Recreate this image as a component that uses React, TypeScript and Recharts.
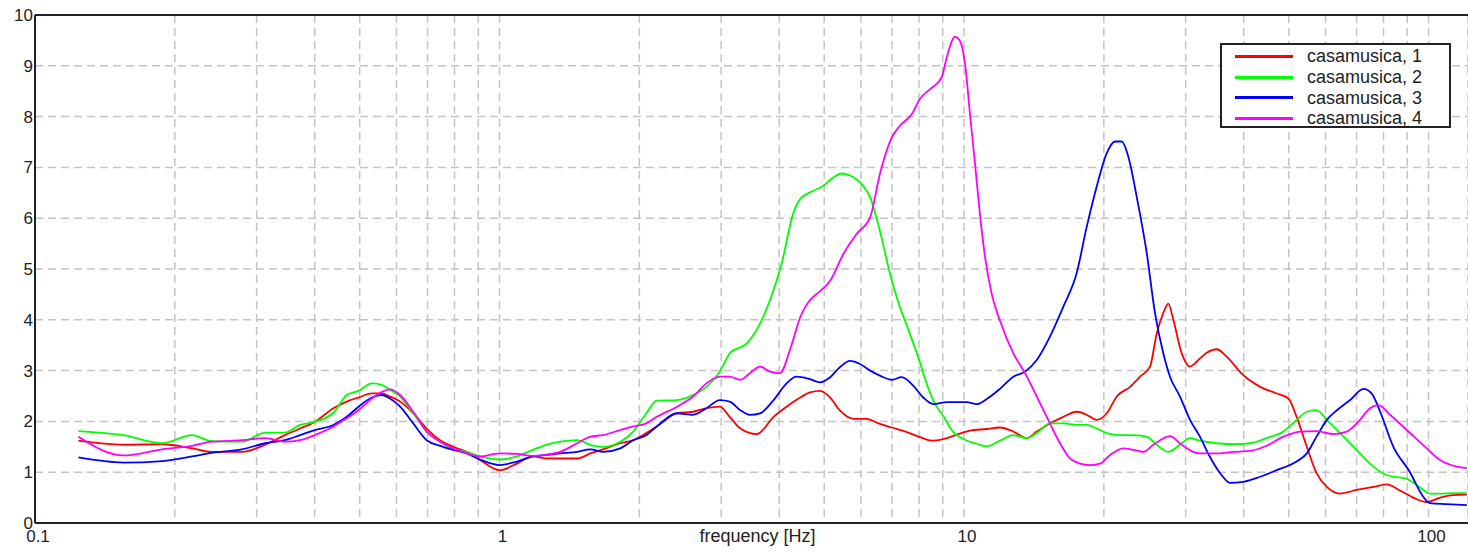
import { LineChart, Line, XAxis, YAxis, CartesianGrid, ReferenceLine } from "recharts"

// [frequency Hz, amplitude]
const RED: [number, number][] = [
  [0.124, 1.62], [0.155, 1.54], [0.188, 1.55], [0.218, 1.47], [0.24, 1.4], [0.279, 1.4], [0.313, 1.54], [0.345, 1.73],
  [0.372, 1.86], [0.4, 1.99], [0.439, 2.26], [0.469, 2.39], [0.497, 2.47], [0.531, 2.55], [0.558, 2.55], [0.581, 2.49],
  [0.611, 2.39], [0.652, 2.16], [0.697, 1.86], [0.745, 1.63], [0.795, 1.5], [0.85, 1.4], [0.908, 1.24], [1.0, 1.04],
  [1.09, 1.17], [1.18, 1.31], [1.26, 1.27], [1.35, 1.27], [1.47, 1.27], [1.57, 1.37], [1.67, 1.45], [1.82, 1.57],
  [1.94, 1.63], [2.07, 1.77], [2.18, 1.9], [2.41, 2.16], [2.61, 2.19], [2.79, 2.26], [2.98, 2.29], [3.13, 2.09],
  [3.3, 1.86], [3.58, 1.75], [3.89, 2.09], [4.15, 2.29], [4.44, 2.47], [4.66, 2.57], [4.9, 2.6], [5.15, 2.47],
  [5.41, 2.21], [5.78, 2.05], [6.17, 2.05], [6.59, 1.95], [6.99, 1.88], [7.53, 1.79], [8.04, 1.69], [8.52, 1.62],
  [9.03, 1.65], [9.65, 1.74], [10.3, 1.82], [11.19, 1.85], [11.95, 1.88], [12.77, 1.8], [13.65, 1.67], [14.34, 1.8],
  [15.31, 1.96], [16.36, 2.09], [17.48, 2.19], [18.37, 2.13], [19.3, 2.03], [20.29, 2.16], [21.32, 2.49], [22.77, 2.68],
  [23.93, 2.88], [25.14, 3.08], [25.99, 3.73], [26.85, 4.13], [27.53, 4.32], [28.22, 4.0], [29.42, 3.34], [30.65, 3.08],
  [32.2, 3.24], [33.3, 3.35], [35.0, 3.42], [36.8, 3.27], [39.9, 2.91], [43.4, 2.68], [47.1, 2.55], [49.9, 2.45],
  [52.0, 2.09], [54.7, 1.5], [57.4, 0.98], [60.4, 0.71], [64.5, 0.58], [70.0, 0.65], [76.1, 0.71], [81.3, 0.76],
  [86.8, 0.64], [92.7, 0.5], [99.1, 0.41], [105.9, 0.5], [113.1, 0.55], [120.9, 0.56],
]

const GREEN: [number, number][] = [
  [0.124, 1.81], [0.155, 1.73], [0.188, 1.57], [0.218, 1.73], [0.24, 1.61], [0.279, 1.6], [0.313, 1.78], [0.345, 1.78],
  [0.372, 1.93], [0.4, 1.99], [0.439, 2.17], [0.469, 2.52], [0.497, 2.6], [0.531, 2.75], [0.558, 2.72], [0.581, 2.62],
  [0.611, 2.49], [0.652, 2.16], [0.697, 1.8], [0.745, 1.6], [0.795, 1.45], [0.85, 1.4], [0.908, 1.31], [1.0, 1.25],
  [1.09, 1.31], [1.18, 1.44], [1.26, 1.54], [1.35, 1.6], [1.47, 1.63], [1.57, 1.54], [1.67, 1.5], [1.82, 1.6],
  [1.94, 1.8], [2.07, 2.16], [2.18, 2.41], [2.41, 2.42], [2.61, 2.52], [2.79, 2.68], [2.98, 2.98], [3.13, 3.34],
  [3.41, 3.54], [3.64, 3.93], [3.89, 4.59], [4.05, 5.11], [4.29, 6.1], [4.44, 6.38], [4.74, 6.54], [4.98, 6.64],
  [5.23, 6.8], [5.45, 6.88], [5.68, 6.84], [6.02, 6.67], [6.28, 6.41], [6.59, 5.75], [6.99, 4.77], [7.28, 4.25],
  [7.65, 3.72], [7.97, 3.26], [8.31, 2.74], [8.59, 2.41], [9.06, 2.08], [9.48, 1.79], [10.0, 1.65], [10.65, 1.56],
  [11.19, 1.51], [11.95, 1.62], [12.77, 1.73], [13.65, 1.67], [14.34, 1.77], [15.31, 1.96], [16.36, 1.96], [17.48, 1.93],
  [18.37, 1.93], [19.3, 1.86], [20.29, 1.77], [21.67, 1.73], [23.15, 1.73], [24.74, 1.7], [25.99, 1.54], [27.53, 1.4],
  [29.17, 1.54], [30.65, 1.67], [32.2, 1.62], [35.0, 1.57], [38.0, 1.55], [41.3, 1.57], [44.8, 1.67], [48.7, 1.8],
  [52.0, 2.03], [54.7, 2.19], [57.4, 2.22], [60.4, 2.03], [64.5, 1.77], [70.0, 1.44], [76.1, 1.11], [81.3, 0.94],
  [89.8, 0.87], [95.9, 0.7], [100.7, 0.58], [106.0, 0.58], [113.1, 0.59], [120.9, 0.59],
]

const BLUE: [number, number][] = [
  [0.124, 1.29], [0.155, 1.19], [0.188, 1.22], [0.218, 1.31], [0.24, 1.38], [0.279, 1.45], [0.313, 1.57], [0.345, 1.63],
  [0.372, 1.73], [0.4, 1.83], [0.439, 1.93], [0.469, 2.09], [0.497, 2.29], [0.531, 2.47], [0.558, 2.52], [0.581, 2.45],
  [0.611, 2.29], [0.652, 1.96], [0.697, 1.63], [0.745, 1.52], [0.795, 1.44], [0.85, 1.37], [0.908, 1.25], [1.0, 1.14],
  [1.09, 1.21], [1.18, 1.31], [1.26, 1.34], [1.35, 1.37], [1.47, 1.4], [1.57, 1.45], [1.67, 1.4], [1.82, 1.47],
  [1.94, 1.63], [2.07, 1.73], [2.18, 1.9], [2.41, 2.16], [2.61, 2.13], [2.79, 2.26], [2.98, 2.42], [3.13, 2.39],
  [3.3, 2.22], [3.46, 2.13], [3.64, 2.16], [3.89, 2.42], [4.15, 2.75], [4.36, 2.88], [4.66, 2.83], [4.9, 2.77],
  [5.15, 2.87], [5.41, 3.07], [5.68, 3.19], [5.97, 3.13], [6.28, 3.0], [6.59, 2.9], [6.99, 2.82], [7.34, 2.87],
  [7.78, 2.7], [8.17, 2.47], [8.59, 2.34], [9.18, 2.38], [9.65, 2.38], [10.13, 2.38], [10.65, 2.34], [11.19, 2.44],
  [11.95, 2.64], [12.77, 2.88], [13.53, 2.98], [14.34, 3.21], [15.31, 3.67], [16.36, 4.26], [17.48, 4.92], [18.37, 5.83],
  [19.3, 6.62], [20.29, 7.28], [21.14, 7.51], [21.86, 7.51], [22.58, 7.21], [23.54, 6.42], [24.74, 5.31], [25.77, 4.13],
  [26.85, 3.34], [27.76, 2.88], [29.17, 2.49], [30.65, 2.03], [32.2, 1.7], [33.8, 1.31], [35.6, 0.98], [37.4, 0.79],
  [39.9, 0.81], [43.4, 0.91], [47.1, 1.04], [52.0, 1.21], [54.7, 1.37], [57.4, 1.7], [60.4, 2.03], [63.5, 2.22],
  [67.8, 2.42], [72.4, 2.64], [75.4, 2.55], [78.6, 2.2], [84.0, 1.5], [91.2, 1.0], [96.7, 0.56], [100.7, 0.39],
  [109.4, 0.37], [120.9, 0.35],
]

const MAGENTA: [number, number][] = [
  [0.124, 1.7], [0.155, 1.33], [0.188, 1.45], [0.218, 1.52], [0.24, 1.6], [0.279, 1.63], [0.313, 1.67], [0.345, 1.6],
  [0.372, 1.63], [0.4, 1.73], [0.439, 1.9], [0.469, 2.06], [0.497, 2.22], [0.531, 2.45], [0.558, 2.58], [0.581, 2.63],
  [0.611, 2.52], [0.652, 2.19], [0.697, 1.8], [0.745, 1.6], [0.795, 1.47], [0.85, 1.37], [0.908, 1.31], [1.0, 1.37],
  [1.09, 1.36], [1.18, 1.32], [1.26, 1.34], [1.35, 1.4], [1.47, 1.57], [1.57, 1.7], [1.67, 1.73], [1.82, 1.83],
  [1.94, 1.9], [2.07, 1.96], [2.18, 2.09], [2.41, 2.29], [2.61, 2.49], [2.79, 2.75], [2.98, 2.88], [3.13, 2.88],
  [3.3, 2.82], [3.46, 2.95], [3.64, 3.08], [3.82, 2.98], [4.02, 2.95], [4.22, 3.41], [4.44, 4.05], [4.66, 4.39],
  [4.82, 4.51], [5.15, 4.77], [5.5, 5.3], [5.87, 5.69], [6.28, 6.02], [6.59, 6.87], [6.99, 7.59], [7.28, 7.82],
  [7.72, 8.05], [8.04, 8.35], [8.45, 8.54], [8.95, 8.77], [9.18, 9.17], [9.56, 9.57], [9.8, 9.49], [10.05, 9.04],
  [10.3, 8.05], [10.56, 7.07], [10.82, 6.08], [11.1, 5.23], [11.47, 4.51], [11.95, 3.98], [12.77, 3.34], [13.53, 2.95],
  [14.34, 2.49], [15.31, 1.96], [16.09, 1.57], [16.91, 1.27], [17.77, 1.17], [18.67, 1.14], [19.63, 1.17], [20.62, 1.34],
  [22.03, 1.47], [23.15, 1.44], [24.32, 1.4], [25.56, 1.54], [27.76, 1.71], [29.42, 1.54], [31.16, 1.4], [32.2, 1.37],
  [35.0, 1.37], [38.0, 1.4], [41.3, 1.42], [44.8, 1.52], [48.7, 1.7], [52.9, 1.8], [57.4, 1.81], [62.4, 1.75],
  [66.7, 1.8], [71.2, 2.03], [74.8, 2.26], [78.0, 2.32], [82.6, 2.13], [89.8, 1.83], [99.1, 1.47], [105.9, 1.24],
  [115.0, 1.11], [120.9, 1.08],
]

const SERIES = [
  { name: "casamusica, 1", color: "#ff0000", points: RED },
  { name: "casamusica, 2", color: "#00ff00", points: GREEN },
  { name: "casamusica, 3", color: "#0000ff", points: BLUE },
  { name: "casamusica, 4", color: "#ff00ff", points: MAGENTA },
]

const X_TICKS = [
  0.1, 0.2, 0.3, 0.4, 0.5, 0.6, 0.7, 0.8, 0.9,
  1, 2, 3, 4, 5, 6, 7, 8, 9,
  10, 20, 30, 40, 50, 60, 70, 80, 90,
  100,
]
const X_LABELS = [0.1, 1, 10, 100]
const Y_TICKS = [0, 1, 2, 3, 4, 5, 6, 7, 8, 9, 10]

const TEXT = "#222"
const FONT = "'Liberation Sans', Arial, sans-serif"

function LegendBox() {
  return (
    <div
      style={{
        position: "absolute",
        left: 1220,
        top: 43,
        width: 227,
        height: 80,
        border: "2px solid #222",
        background: "#fff",
        paddingTop: 1,
      }}
    >
      {SERIES.map(s => (
        <div key={s.name} style={{ display: "flex", alignItems: "center", height: 20.7 }}>
          <div style={{ marginLeft: 13, width: 58, height: 3, background: s.color }} />
          <span style={{ marginLeft: 14, fontSize: 18, color: TEXT, lineHeight: "20px" }}>{s.name}</span>
        </div>
      ))}
    </div>
  )
}

export default function App() {
  return (
    <div style={{ position: "absolute", left: 0, top: 0, width: 1468, height: 553, background: "#fff", fontFamily: FONT }}>
      <LineChart width={1468} height={553} margin={{ top: 15, right: 0, bottom: 0, left: 0 }}>
        <CartesianGrid stroke="#c4c4c4" strokeDasharray="8 5" strokeWidth={1.5} />
        <XAxis
          dataKey="f"
          type="number"
          scale="log"
          domain={[0.1, 121.6]}
          allowDataOverflow
          ticks={X_TICKS}
          interval={0}
          height={30}
          tickLine={false}
          tickSize={0}
          tickMargin={7}
          tickFormatter={(v: number) => (X_LABELS.includes(v) ? String(v) : "")}
          tick={{ fill: TEXT, fontSize: 17, dx: 3 }}
          axisLine={{ stroke: TEXT, strokeWidth: 2 }}
          label={{ value: "frequency [Hz]", position: "insideBottom", offset: 11, dx: 6, fill: TEXT, fontSize: 18 }}
        />
        <YAxis
          type="number"
          domain={[0, 10]}
          ticks={Y_TICKS}
          interval={0}
          width={35}
          tickLine={false}
          tickSize={0}
          tickMargin={2}
          tick={{ fill: TEXT, fontSize: 17 }}
          axisLine={{ stroke: TEXT, strokeWidth: 2 }}
        />
        <ReferenceLine y={10} stroke={TEXT} strokeWidth={2} />
        {SERIES.map(s => (
          <Line
            key={s.name}
            data={s.points.map(([f, v]) => ({ f, v }))}
            dataKey="v"
            name={s.name}
            type="monotone"
            stroke={s.color}
            strokeWidth={1.8}
            dot={false}
            isAnimationActive={false}
          />
        ))}
      </LineChart>
      <LegendBox />
    </div>
  )
}
